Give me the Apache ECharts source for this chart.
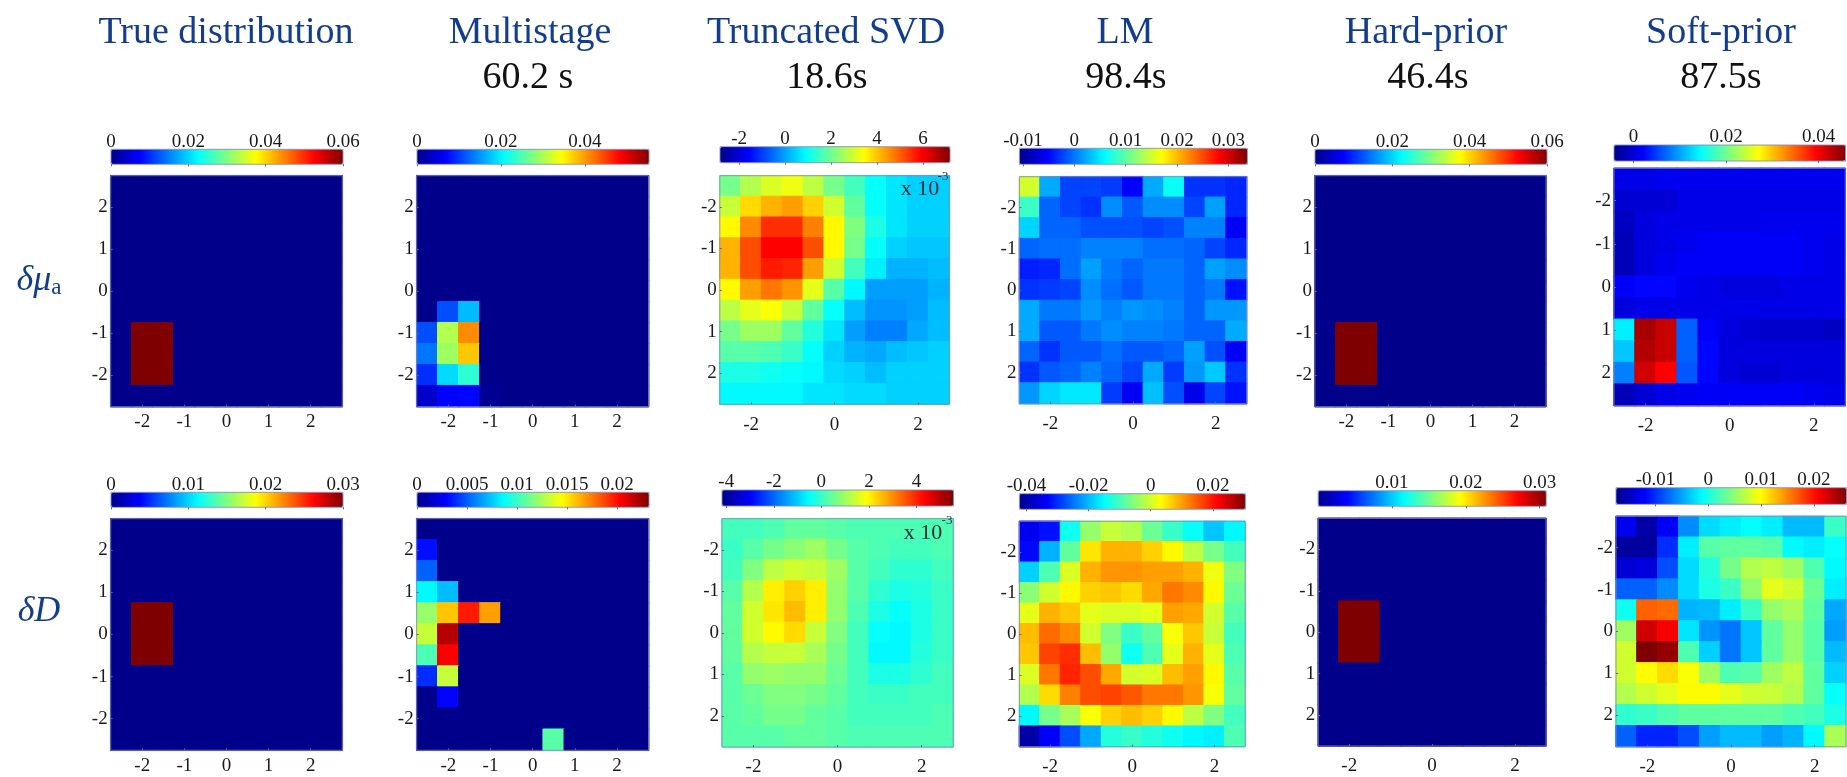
<!DOCTYPE html>
<html><head><meta charset="utf-8">
<style>html,body{margin:0;padding:0;background:#fff}#c{width:1847px;height:777px}</style>
<script src="https://cdn.jsdelivr.net/npm/echarts@6/dist/echarts.min.js"></script>
</head><body><div id="c"></div>
<script>
// ---- categories and tick labels
const cellCentres = ['-2.5','-2','-1.5','-1','-0.5','0','0.5','1','1.5','2','2.5'];
const everyUnit = [-2,-1,0,1,2];
const everyTwo = [-2,0,2];
const methodNames = ['True distribution','Multistage','Truncated SVD','LM','Hard-prior','Soft-prior'];
const methodTimes = ['', '60.2 s', '18.6s', '98.4s', '46.4s', '87.5s'];

// ---- colourbar ranges and tick values
const rangeMuTrue = [0,0.06],        ticksMuTrue = [0,0.02,0.04,0.06];
const rangeMuMulti = [0,0.0553],     ticksMuMulti = [0,0.02,0.04];
const rangeMuSvd = [-2.83,7.17],     ticksMuSvd = [-2,0,2,4,6];
const rangeMuLm = [-0.0107,0.0337],  ticksMuLm = [-0.01,0,0.01,0.02,0.03];
const rangeMuHard = [0,0.06],        ticksMuHard = [0,0.02,0.04,0.06];
const rangeMuSoft = [-0.0042,0.0458],ticksMuSoft = [0,0.02,0.04];
const rangeDTrue = [0,0.03],         ticksDTrue = [0,0.01,0.02,0.03];
const rangeDMulti = [0,0.0232],      ticksDMulti = [0,0.005,0.01,0.015,0.02];
const rangeDSvd = [-4.18,5.56],      ticksDSvd = [-4,-2,0,2,4];
const rangeDLm = [-0.0423,0.0305],   ticksDLm = [-0.04,-0.02,0,0.02];
const rangeDHard = [0,0.0309],       ticksDHard = [0.01,0.02,0.03];
const rangeDSoft = [-0.0175,0.0262], ticksDSoft = [-0.01,0,0.01,0.02];

// ---- cell values, rows listed from the top of each panel
const muTrue = [
[0,0,0,0,0,0,0,0,0,0,0],[0,0,0,0,0,0,0,0,0,0,0],[0,0,0,0,0,0,0,0,0,0,0],[0,0,0,0,0,0,0,0,0,0,0],
[0,0,0,0,0,0,0,0,0,0,0],[0,0,0,0,0,0,0,0,0,0,0],[0,0,0,0,0,0,0,0,0,0,0],
[0,.06,.06,0,0,0,0,0,0,0,0],[0,.06,.06,0,0,0,0,0,0,0,0],[0,.06,.06,0,0,0,0,0,0,0,0],
[0,0,0,0,0,0,0,0,0,0,0]];
const muMulti = [
[0,0,0,0,0,0,0,0,0,0,0],[0,0,0,0,0,0,0,0,0,0,0],[0,0,0,0,0,0,0,0,0,0,0],[0,0,0,0,0,0,0,0,0,0,0],
[0,0,0,0,0,0,0,0,0,0,0],[0,0,0,0,0,0,0,0,0,0,0],
[0,.0111,.0171,0,0,0,0,0,0,0,0],
[.0111,.0304,.0409,0,0,0,0,0,0,0,0],
[.0133,.0293,.0376,0,0,0,0,0,0,0,0],
[.0094,.0188,.0232,0,0,0,0,0,0,0,0],
[.0039,.0069,.0072,.0006,0,0,0,0,0,0,0]];
const muSvd = [
[2.07,2.67,3.07,3.27,2.77,2.07,1.57,.97,.67,.47,.47],
[2.87,3.77,4.17,4.37,3.87,2.97,1.87,.97,.67,.47,.47],
[3.47,4.57,5.47,5.47,4.67,3.47,2.17,1.17,.67,.47,.47],
[4.17,5.17,5.92,5.92,5.17,3.47,2.07,.97,.47,.37,.37],
[4.17,5.17,5.67,5.57,4.37,2.97,1.57,.77,.17,.17,.27],
[3.47,4.37,4.77,4.47,3.17,1.77,.87,-.03,-.03,-.03,.17],
[2.77,3.17,3.37,2.87,1.87,.97,.27,-.13,-.13,-.03,.27],
[2.07,2.47,2.47,1.87,1.27,.67,-.03,-.33,-.33,.07,.27],
[1.77,1.77,1.67,1.47,.97,.47,.17,.07,.27,.37,.47],
[1.17,1.17,1.07,.97,.87,.57,.47,.27,.47,.47,.47],
[.87,.87,.87,.87,.67,.67,.57,.57,.47,.47,.47]];
const muLm = [
[.0152,.0023,-.0022,-.0022,-.0026,-.0053,.0023,.0063,-.0030,-.0030,-.0035],
[.0085,-.0008,-.0022,-.0030,.0010,-.0013,.0010,.0010,-.0022,.0018,-.0035],
[.0041,-.0008,-.0008,-.0017,-.0017,-.0017,-.0022,-.0017,.0005,.0005,-.0057],
[-.0008,-.0004,-.0004,.0005,.0005,.0005,-.0004,-.0004,-.0008,-.0022,-.0035],
[-.0039,-.0035,-.0004,.0018,.0001,-.0008,.0001,.0001,-.0008,.0018,.0010],
[-.0030,-.0026,-.0022,.0010,-.0004,-.0013,.0001,.0001,-.0008,.0001,-.0044],
[.0023,.0001,.0001,.0014,.0005,.0014,.0010,.0005,-.0008,.0014,.0014],
[.0023,-.0013,-.0013,.0001,.0010,.0005,.0005,.0001,-.0008,-.0008,.0023],
[-.0008,-.0030,-.0013,-.0013,-.0004,-.0013,-.0013,-.0008,.0018,-.0017,-.0057],
[-.0030,-.0013,-.0008,.0005,-.0008,-.0022,.0023,-.0026,.0014,.0036,-.0030],
[.0014,.0041,.0050,.0050,-.0026,-.0057,.0032,-.0017,-.0061,-.0022,-.0044]];
const muHard = [
[0,0,0,0,0,0,0,0,0,0,0],[0,0,0,0,0,0,0,0,0,0,0],[0,0,0,0,0,0,0,0,0,0,0],[0,0,0,0,0,0,0,0,0,0,0],
[0,0,0,0,0,0,0,0,0,0,0],[0,0,0,0,0,0,0,0,0,0,0],[0,0,0,0,0,0,0,0,0,0,0],
[0,.06,.06,0,0,0,0,0,0,0,0],[0,.06,.06,0,0,0,0,0,0,0,0],[0,.06,.06,0,0,0,0,0,0,0,0],
[0,0,0,0,0,0,0,0,0,0,0]];
const muSoft = [
[.0008,.0008,.0013,.0013,.0013,.0013,.0013,.0013,.0013,.0013,.0013],
[-.0002,-.0002,-.0002,.0008,.0008,.0008,.0008,.0008,.0008,.0008,.0008],
[-.0012,.0003,.0008,.0008,.0008,.0008,.0008,.0013,.0013,.0013,.0013],
[-.0017,.0003,.0008,.0013,.0018,.0018,.0018,.0018,.0018,.0013,.0008],
[-.0017,.0003,.0013,.0018,.0018,.0018,.0018,.0018,.0018,.0013,.0008],
[.0018,.0023,.0023,.0013,.0008,.0003,.0003,.0003,.0008,.0008,.0008],
[.0003,.0008,.0008,.0008,.0008,.0008,.0008,.0008,.0008,.0008,.0008],
[.0138,.0438,.0423,.0068,.0018,.0003,-.0002,-.0007,-.0007,-.0007,-.0012],
[.0118,.0433,.0423,.0068,.0023,.0003,.0003,.0003,.0003,.0003,.0003],
[.0083,.0418,.0396,.0063,.0023,.0003,-.0002,-.0002,.0003,.0003,.0003],
[-.0017,-.0002,.0008,.0013,.0018,.0018,.0018,.0018,.0018,.0013,.0008]];
const dTrue = [
[0,0,0,0,0,0,0,0,0,0,0],[0,0,0,0,0,0,0,0,0,0,0],[0,0,0,0,0,0,0,0,0,0,0],[0,0,0,0,0,0,0,0,0,0,0],
[0,.03,.03,0,0,0,0,0,0,0,0],[0,.03,.03,0,0,0,0,0,0,0,0],[0,.03,.03,0,0,0,0,0,0,0,0],
[0,0,0,0,0,0,0,0,0,0,0],[0,0,0,0,0,0,0,0,0,0,0],[0,0,0,0,0,0,0,0,0,0,0],[0,0,0,0,0,0,0,0,0,0,0]];
const dMulti = [
[0,0,0,0,0,0,0,0,0,0,0],
[.0032,0,0,0,0,0,0,0,0,0,0],
[.0051,0,0,0,0,0,0,0,0,0,0],
[.0086,.0072,0,0,0,0,0,0,0,0,0],
[.0121,.0158,.0197,.0167,0,0,0,0,0,0,0],
[.0132,.0220,0,0,0,0,0,0,0,0,0],
[.0104,.0204,0,0,0,0,0,0,0,0,0],
[.0039,.0132,0,0,0,0,0,0,0,0,0],
[0,.0030,0,0,0,0,0,0,0,0,0],
[0,0,0,0,0,0,0,0,0,0,0],
[0,0,0,0,0,0,.0107,0,0,0,0]];
const dSvd = [
[.11,.11,.20,.40,.40,.30,.20,.20,.20,.20,.20],
[.01,.30,.59,.79,.98,.59,.30,.20,.11,.11,.20],
[.11,.69,1.27,1.47,1.37,.98,.30,.11,-.09,-.09,.11],
[.30,1.18,2.05,2.35,2.05,.88,.30,-.09,-.28,-.19,.01],
[.40,1.47,2.15,2.54,2.05,.88,.20,-.28,-.48,-.28,.01],
[.40,1.47,1.96,2.25,1.37,.69,.11,-.48,-.58,-.28,.01],
[.40,1.18,1.37,1.37,1.08,.59,.11,-.58,-.58,-.19,.01],
[.30,.88,.98,.88,.88,.50,.11,-.28,-.28,-.09,.11],
[.30,.50,.69,.69,.59,.40,.11,.01,.01,.11,.11],
[.30,.40,.59,.59,.40,.30,.11,.11,.11,.11,.20],
[.30,.30,.30,.40,.40,.30,.20,.20,.20,.20,.20]];
const dLm = [
[-.0343,-.0321,-.0139,-.0044,-.0008,-.0023,-.0074,-.0110,-.0146,-.0190,-.0154],
[-.0328,-.0205,-.0081,.0050,.0087,.0087,.0065,.0036,-.0015,-.0066,-.0103],
[-.0183,-.0095,.0007,.0087,.0108,.0108,.0101,.0101,.0087,.0021,-.0059],
[-.0052,-.0001,.0036,.0065,.0072,.0057,.0094,.0130,.0116,.0036,-.0074],
[.0014,.0087,.0072,.0014,.0007,.0007,.0014,.0101,.0094,-.0001,-.0088],
[.0079,.0138,.0116,-.0001,-.0059,-.0110,-.0081,.0028,.0072,-.0008,-.0103],
[.0072,.0167,.0181,.0079,-.0044,-.0139,-.0095,.0014,.0087,.0014,-.0095],
[.0007,.0130,.0189,.0159,.0094,-.0001,.0007,.0079,.0101,.0036,-.0088],
[-.0023,.0057,.0123,.0159,.0167,.0152,.0130,.0130,.0108,.0028,-.0081],
[-.0154,-.0066,-.0030,.0028,.0065,.0079,.0065,.0036,-.0015,-.0059,-.0103],
[-.0401,-.0336,-.0277,-.0212,-.0125,-.0110,-.0125,-.0139,-.0154,-.0161,-.0095]];
const dHard = [
[0,0,0,0,0,0,0,0,0,0,0],[0,0,0,0,0,0,0,0,0,0,0],[0,0,0,0,0,0,0,0,0,0,0],[0,0,0,0,0,0,0,0,0,0,0],
[0,.0309,.0309,0,0,0,0,0,0,0,0],[0,.0309,.0309,0,0,0,0,0,0,0,0],[0,.0309,.0309,0,0,0,0,0,0,0,0],
[0,0,0,0,0,0,0,0,0,0,0],[0,0,0,0,0,0,0,0,0,0,0],[0,0,0,0,0,0,0,0,0,0,0],[0,0,0,0,0,0,0,0,0,0,0]];
const dSoft = [
[-.0127,-.0162,-.0123,-.0061,-.0026,-.0018,-.0011,-.0018,-.0040,-.0040,.0013],
[-.0166,-.0166,-.0101,-.0018,.0026,.0030,.0030,.0026,-.0013,-.0018,-.0009],
[-.0140,-.0136,-.0088,-.0026,.0004,.0039,.0065,.0070,.0057,.0022,-.0013],
[-.0079,-.0079,-.0061,-.0026,0,.0013,.0052,.0087,.0078,.0035,-.0018],
[-.0005,.0166,.0162,-.0044,-.0040,-.0018,.0013,.0052,.0061,.0030,-.0048],
[.0057,.0227,.0210,-.0022,-.0057,-.0070,-.0035,.0030,.0052,.0026,-.0053],
[.0078,.0262,.0253,.0022,-.0031,-.0070,-.0035,.0030,.0052,.0026,-.0040],
[.0078,.0100,.0113,.0096,.0057,.0022,.0026,.0057,.0070,.0030,-.0031],
[.0065,.0078,.0087,.0100,.0100,.0087,.0078,.0074,.0065,.0030,-.0009],
[.0009,.0013,.0022,.0030,.0030,.0030,.0030,.0030,.0022,.0017,0],
[-.0079,-.0105,-.0105,-.0088,-.0053,-.0040,-.0040,-.0053,-.0044,-.0013,.0061]];

// ---- panel table: data + placement
const jet = ['#00008b','#0000ff','#0080ff','#00ffff','#80ff80','#ffff00','#ff8000','#ff0000','#7f0000'];
const FONT = '"Liberation Serif","Times New Roman",serif';
const panels = [
 {d:muTrue, r:rangeMuTrue, t:ticksMuTrue, xt:everyUnit, flip:true,  box:[110.7,175.7,231.6,231], bar:[111,149.3,232,15], xm:6},
 {d:muMulti,r:rangeMuMulti,t:ticksMuMulti,xt:everyUnit, flip:true,  box:[416.7,175.7,231.9,231], bar:[417,149.3,232,15], xm:6},
 {d:muSvd,  r:rangeMuSvd,  t:ticksMuSvd,  xt:everyTwo,  flip:false, box:[719.8,175.7,229.6,228.6], bar:[720,146.7,230,16], xm:11},
 {d:muLm,   r:rangeMuLm,   t:ticksMuLm,   xt:everyTwo,  flip:false, box:[1019.4,176.7,227.3,227], bar:[1019.4,148.3,228,16], xm:11},
 {d:muHard, r:rangeMuHard, t:ticksMuHard, xt:everyUnit, flip:true,  box:[1314.9,175.7,231.1,231], bar:[1315,149.3,232,15], xm:6},
 {d:muSoft, r:rangeMuSoft, t:ticksMuSoft, xt:everyTwo,  flip:false, box:[1614,168.3,231.3,237.4], bar:[1614,145,231.5,16], xm:11},
 {d:dTrue,  r:rangeDTrue,  t:ticksDTrue,  xt:everyUnit, flip:true,  box:[110.7,518.7,231.6,231.6], bar:[111,492.3,232,15], xm:6},
 {d:dMulti, r:rangeDMulti, t:ticksDMulti, xt:everyUnit, flip:true,  box:[416.7,518.7,231.9,231.6], bar:[417,492.3,232,15], xm:6},
 {d:dSvd,   r:rangeDSvd,   t:ticksDSvd,   xt:everyTwo,  flip:false, box:[722,518.7,231.2,230.6], bar:[722,490,231.5,16], xm:11},
 {d:dLm,    r:rangeDLm,    t:ticksDLm,    xt:everyTwo,  flip:false, box:[1019.4,521.3,225.8,225.4], bar:[1019.4,493.7,226,15.6], xm:11},
 {d:dHard,  r:rangeDHard,  t:ticksDHard,  xt:everyTwo,  flip:false, box:[1318.2,518.3,227.8,227.7], bar:[1318.2,490.7,228,15.6], xm:11},
 {d:dSoft,  r:rangeDSoft,  t:ticksDSoft,  xt:everyTwo,  flip:false, box:[1616,516.3,230,230.4], bar:[1616,487.7,230.5,16.6], xm:11}
];
const yTicks = everyUnit;
const txt = '#1a1a1a', frame = 'rgba(130,140,180,0.85)';
const LABEL = 19;

const grid = [], xAxis = [], yAxis = [], series = [], visualMap = [];
panels.forEach((p, i) => {
  const g0 = grid.length;
  grid.push({left:p.box[0], top:p.box[1], width:p.box[2], height:p.box[3], show:true, z:5,
    backgroundColor:'transparent', borderColor:frame, borderWidth:1});
  const pick = list => (idx, val) => list.includes(Number(val));
  xAxis.push({type:'category', gridIndex:g0, data:cellCentres, position:'bottom', z:6,
    axisLine:{show:false}, splitLine:{show:false},
    axisTick:{show:true, inside:true, length:2, alignWithLabel:true, interval:pick(p.xt), lineStyle:{color:'#667',width:1}},
    axisLabel:{interval:pick(p.xt), margin:p.xm, fontFamily:FONT, fontSize:LABEL, color:txt}});
  yAxis.push({type:'category', gridIndex:g0, data:cellCentres, inverse:!p.flip, z:6,
    axisLine:{show:false}, splitLine:{show:false},
    axisTick:{show:true, inside:true, length:2, alignWithLabel:true, interval:pick(yTicks), lineStyle:{color:'#667',width:1}},
    axisLabel:{interval:pick(yTicks), margin:3, fontFamily:FONT, fontSize:LABEL, color:txt}});
  const cells = [];
  p.d.forEach((row, r) => row.forEach((v, c) => {
    // same colour as the visualMap fill: closes the hairlines between neighbouring cells
    const edge = echarts.color.lerp(Math.min(1, Math.max(0, (v - p.r[0]) / (p.r[1] - p.r[0]))), jet);
    cells.push({value:[c, p.flip ? 10 - r : r, v], itemStyle:{borderColor:edge, borderWidth:1}});
  }));
  series.push({type:'heatmap', xAxisIndex:g0, yAxisIndex:g0, data:cells, silent:true, progressive:0, animation:false});
  visualMap.push({type:'continuous', seriesIndex:i, min:p.r[0], max:p.r[1], orient:'horizontal',
    left:p.bar[0], top:p.bar[1], itemHeight:p.bar[2], itemWidth:p.bar[3], padding:0, calculable:false,
    hoverLink:false, text:null, showLabel:false, inRange:{color:jet}, z:4});
});
panels.forEach(p => {
  const g = grid.length;
  grid.push({left:p.bar[0], top:p.bar[1], width:p.bar[2], height:p.bar[3], show:true, z:5,
    backgroundColor:'transparent', borderColor:frame, borderWidth:1});
  xAxis.push({type:'value', gridIndex:g, position:'top', min:p.r[0], max:p.r[1], z:6,
    axisLine:{show:false}, splitLine:{show:false},
    axisTick:{show:true, inside:true, length:2, customValues:p.t, lineStyle:{color:'#667',width:1}},
    axisLabel:{show:true, customValues:p.t, margin:-2, fontFamily:FONT, fontSize:LABEL, color:txt,
      formatter:v => String(v)}});
  yAxis.push({type:'value', gridIndex:g, show:false, min:0, max:1, splitLine:{show:false}});
});

const titleBlue = '#123d8f';
const titleX = [226, 530, 826, 1125, 1426, 1721];
const timeX = [0, 528, 827, 1126, 1428, 1721];
const title = [];
methodNames.forEach((n, i) => title.push({text:n, left:titleX[i], top:14, textAlign:'center', padding:0,
  textStyle:{fontFamily:FONT, fontSize:38, fontWeight:'normal', color:titleBlue}}));
methodTimes.forEach((n, i) => { if (n) title.push({text:n, left:timeX[i], top:59, textAlign:'center', padding:0,
  textStyle:{fontFamily:FONT, fontSize:38, fontWeight:'normal', color:'#111'}}); });
[['x 10',920,178,22],['-3',943,170,13],['x 10',923,522,22],['-3',947,514,13]].forEach(a => title.push({text:a[0], left:a[1], top:a[2],
  textAlign:'center', padding:0, z:8, textStyle:{fontFamily:FONT, fontSize:a[3], fontWeight:'normal', color:'#1a2a3a'}}));
const rowRich = {fontWeight:'normal', rich:{
  g:{fontFamily:FONT, fontSize:36, fontStyle:'italic', fontWeight:'normal', color:titleBlue},
  s:{fontFamily:FONT, fontSize:23, fontWeight:'normal', color:titleBlue, padding:[14,0,0,0]}}};
title.push({text:'{g|δμ}{s|a}', left:39, top:262, textAlign:'center', padding:0, textStyle:rowRich});
title.push({text:'{g|δD}', left:39, top:594, textAlign:'center', padding:0, textStyle:rowRich});

const chart = echarts.init(document.getElementById('c'), null, {renderer:'canvas'});
chart.setOption({animation:false, backgroundColor:'#fff', title, grid, xAxis, yAxis, visualMap, series});
</script></body></html>
